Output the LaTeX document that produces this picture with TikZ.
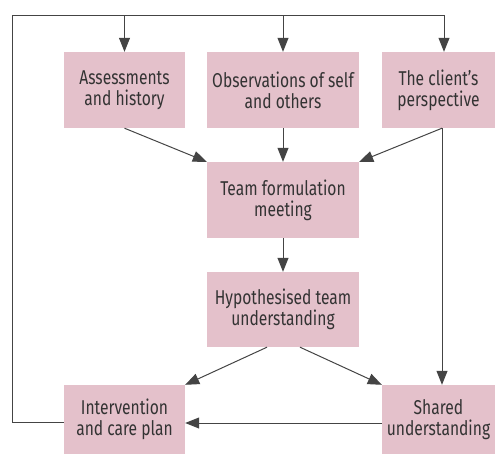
\documentclass[tikz,border=0pt]{standalone}
\usepackage{fontspec}
\setmainfont[FakeStretch=0.78]{Fira Sans}
\usetikzlibrary{arrows.meta,calc}
\definecolor{boxpink}{HTML}{E4C1CB}
\definecolor{linegray}{HTML}{444444}
\definecolor{textgray}{HTML}{333333}
\begin{document}
\begin{tikzpicture}[x=1pt,y=-1pt,
  box/.style={rectangle, fill=boxpink, draw=none, inner sep=0pt, align=center,
    text=textgray, font=\fontsize{20}{21}\selectfont},
  conn/.style={draw=linegray, line width=1pt},
  arr/.style={conn, -{Triangle[width=11pt,length=14pt]}}]
\useasboundingbox (0,0) rectangle (496,455);
\node[box, minimum width=121pt, minimum height=76pt] (A) at (124.5,90) {Assessments\\and history};
\node[box, minimum width=152pt, minimum height=76pt] (O) at (283,90) {Observations of self\\and others};
\node[box, minimum width=113pt, minimum height=76pt] (C) at (438.5,90) {The client’s\\perspective};
\node[box, minimum width=152pt, minimum height=76pt] (T) at (283,200) {Team formulation\\meeting};
\node[box, minimum width=152pt, minimum height=75pt] (H) at (283,309.5) {Hypothesised team\\understanding};
\node[box, minimum width=121pt, minimum height=69pt] (I) at (124.5,419.5) {Intervention\\and care plan};
\node[box, minimum width=113pt, minimum height=69pt] (S) at (438.5,419.5) {Shared\\understanding};
% feedback loop
\coordinate (L1) at (12,422);
\coordinate (L2) at (12,15);
\coordinate (L3) at ($(C.north)+(5.5,0)$);
\coordinate (LA) at (A.north |- L2);
\coordinate (LO) at (O.north |- L2);
\coordinate (LC) at (L3 |- L2);
\draw[conn] (I.west |- L1) -- (L1) -- (L2) -- (LC);
\draw[arr] (LA) -- (A.north);
\draw[arr] (LO) -- (O.north);
\draw[arr] (LC) -- (L3);
% into team formulation
\draw[arr] (A.south) -- (T.north west);
\draw[arr] (O.south) -- (T.north);
\draw[arr] ($(C.south)+(3.5,0)$) -- (T.north east);
\draw[arr] ($(C.south)+(3.5,0)$) -- ($(S.north)+(3.5,0)$);
% down the middle
\draw[arr] (T.south) -- (H.north);
\draw[arr] ($(H.south)+(-16,0)$) -- (I.north east);
\draw[arr] ($(H.south)+(17,0)$) -- (S.north west);
\draw[arr] ($(S.west)+(0,3.5)$) -- ($(I.east)+(0,3.5)$);
\end{tikzpicture}
\end{document}
